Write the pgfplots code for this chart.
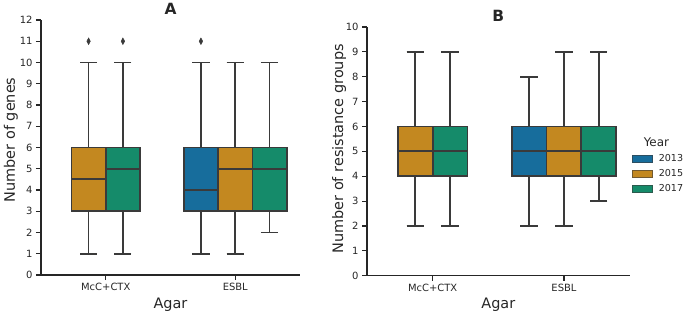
\documentclass[border=0pt]{standalone}
\usepackage{pgfplots}
\pgfplotsset{compat=1.18}
\usepgfplotslibrary{statistics}
\usepackage{fontspec}
\setmainfont{DejaVu Sans}
\definecolor{c13}{RGB}{23,109,156}
\definecolor{c15}{RGB}{195,136,32}
\definecolor{c17}{RGB}{21,139,106}
\definecolor{edge}{RGB}{58,58,58}
\definecolor{txt}{RGB}{38,38,38}
\tikzset{lab/.style={font=\fontsize{14.5}{16}\selectfont, text=txt}}
\pgfplotsset{
  base/.style={
    scale only axis,
    anchor=south west,
    axis x line=bottom,
    axis y line=left,
    x axis line style={-},
    y axis line style={-},
    axis line style={txt, line width=1.1bp},
    tick align=outside,
    major tick length=5bp,
    tick style={txt, line width=1.1bp},
    tick label style={font=\fontsize{10}{12}\selectfont, text=txt},
    /pgf/number format/assume math mode=true,
    xmin=-0.5, xmax=1.5,
    xtick={0,1},
    xticklabels={McC+CTX,ESBL},
    boxplot/draw direction=y,
    every axis title/.style={at={(0.5,1)}, anchor=base, yshift=5bp, font=\bfseries\fontsize{15.5}{17}\selectfont, text=txt},
  },
  bx/.style={forget plot, draw=edge, line width=1.75bp, solid, fill=#1, mark=diamond*,
    mark options={draw=edge, fill=edge, mark size=3.3bp, xscale=0.7, line width=0.5bp}},
}
\begin{document}
\begin{tikzpicture}
\useasboundingbox (0,0) rectangle (685bp,312bp);
% ---------- Panel A ----------
\begin{axis}[base,
  at={(41bp,37bp)}, width=259bp, height=255bp,
  ymin=0, ymax=12, ytick={0,1,...,12},
  title={A},
  xlabel={Agar}, ylabel={Number of genes},
  every axis x label/.style={at={(0.5,-0.131)}, anchor=base, lab},
  every axis y label/.style={at={(-0.1004,0.53)}, rotate=90, anchor=base, lab},
]
\addplot[bx=c15, boxplot prepared={draw position=-0.1325, lower whisker=1, lower quartile=3, median=4.5, upper quartile=6, upper whisker=10, box extend=0.265, whisker extend=0.1325}]
  table[row sep=\\, y index=0] {v\\ 11\\};
\addplot[bx=c17, boxplot prepared={draw position=0.1325, lower whisker=1, lower quartile=3, median=5, upper quartile=6, upper whisker=10, box extend=0.265, whisker extend=0.1325}]
  table[row sep=\\, y index=0] {v\\ 11\\};
\addplot[bx=c13, boxplot prepared={draw position=0.735, lower whisker=1, lower quartile=3, median=4, upper quartile=6, upper whisker=10, box extend=0.265, whisker extend=0.1325}]
  table[row sep=\\, y index=0] {v\\ 11\\};
\addplot[bx=c15, boxplot prepared={draw position=1.0, lower whisker=1, lower quartile=3, median=5, upper quartile=6, upper whisker=10, box extend=0.265, whisker extend=0.1325}]
  coordinates {};
\addplot[bx=c17, boxplot prepared={draw position=1.265, lower whisker=2, lower quartile=3, median=5, upper quartile=6, upper whisker=10, box extend=0.265, whisker extend=0.1325}]
  coordinates {};
\end{axis}
% ---------- Panel B ----------
\begin{axis}[base,
  at={(367bp,36.3bp)}, width=262.6bp, height=248.7bp,
  ymin=0, ymax=10, ytick={0,1,...,10},
  title={B},
  xlabel={Agar}, ylabel={Number of resistance groups},
  every axis x label/.style={at={(0.5,-0.131)}, anchor=base, lab},
  every axis y label/.style={at={(-0.0914,0.51)}, rotate=90, anchor=base, lab},
  legend style={at={(0.998,0.443)}, anchor=west, draw=none, fill=none,
    font=\fontsize{9.6}{11.5}\selectfont, text=txt, row sep=2.4bp,
    legend cell align=left},
  legend image code/.code={\draw[#1, line width=0.6bp] (0bp,-3.3bp) rectangle (20bp,3.3bp); \path (24bp,0bp);},
]
\addplot[bx=c15, boxplot prepared={draw position=-0.1325, lower whisker=2, lower quartile=4, median=5, upper quartile=6, upper whisker=9, box extend=0.265, whisker extend=0.1325}]
  coordinates {};
\addplot[bx=c17, boxplot prepared={draw position=0.1325, lower whisker=2, lower quartile=4, median=5, upper quartile=6, upper whisker=9, box extend=0.265, whisker extend=0.1325}]
  coordinates {};
\addplot[bx=c13, boxplot prepared={draw position=0.735, lower whisker=2, lower quartile=4, median=5, upper quartile=6, upper whisker=8, box extend=0.265, whisker extend=0.1325}]
  coordinates {};
\addplot[bx=c15, boxplot prepared={draw position=1.0, lower whisker=2, lower quartile=4, median=5, upper quartile=6, upper whisker=9, box extend=0.265, whisker extend=0.1325}]
  coordinates {};
\addplot[bx=c17, boxplot prepared={draw position=1.265, lower whisker=3, lower quartile=4, median=5, upper quartile=6, upper whisker=9, box extend=0.265, whisker extend=0.1325}]
  coordinates {};
\addlegendimage{empty legend}
\addlegendentry{\hspace*{-15bp}\fontsize{12}{14}\selectfont Year}
\addlegendimage{fill=c13, draw=edge!60!c13}
\addlegendentry{2013}
\addlegendimage{fill=c15, draw=edge!60!c15}
\addlegendentry{2015}
\addlegendimage{fill=c17, draw=edge!60!c17}
\addlegendentry{2017}
\end{axis}
\end{tikzpicture}
\end{document}
